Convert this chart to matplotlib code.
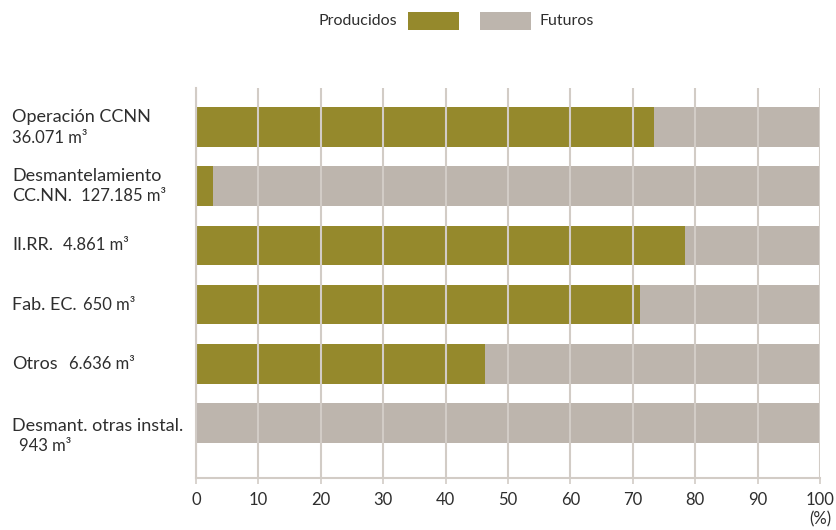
import numpy as np
import matplotlib.pyplot as plt
from matplotlib.patches import Rectangle
from matplotlib.transforms import blended_transform_factory

plt.rcParams["font.family"] = ["Lato", "DejaVu Sans"]

# data
main_labels = ["Operación CCNN", "Desmantelamiento", "II.RR.", "Fab. EC.", "Otros",
               "Desmant. otras instal."]
second_main = ["", "CC.NN.", "", "", "", ""]
volumes = ["36.071 m³", "127.185 m³", "4.861 m³", "650 m³", "6.636 m³", "943 m³"]
producidos = [73.4, 2.7, 78.4, 71.2, 46.3, 0.0]
futuros = [100 - p for p in producidos]
ticks = list(range(0, 101, 10))

OLIVE = "#95892c"
GREY = "#bdb5ad"
GRID = "#d2ccc6"
TXT = "#2e2e2e"

fig = plt.figure(figsize=(8.37, 5.30), dpi=100)
ax = fig.add_axes([196 / 837, 1 - 478 / 530, 624 / 837, 390 / 530])

y = np.arange(len(main_labels))
ax.barh(y, producidos, height=0.67, color=OLIVE, zorder=1)
ax.barh(y, futuros, left=producidos, height=0.67, color=GREY, zorder=1)

ax.set_xlim(0, 100)
ax.set_ylim(5.93, -0.66)
ax.set_xticks(ticks)
ax.set_xticklabels([str(t) for t in ticks], fontsize=12, color=TXT)
ax.set_yticks([])
for t in ticks:
    ax.axvline(t, color=GRID, lw=1.5, zorder=3)
ax.tick_params(axis="x", length=4, width=1.2, color=GRID, pad=6)
for s in ["top", "right"]:
    ax.spines[s].set_visible(False)
for s in ["left", "bottom"]:
    ax.spines[s].set_color(GRID)
    ax.spines[s].set_linewidth(1.5)

ax.text(1.0, -0.085, "(%)", transform=ax.transAxes, ha="center", va="top",
        fontsize=12, color=TXT)

# category labels at the left
tr = blended_transform_factory(fig.transFigure, ax.transData)
x0 = 12 / 837
big = 13
small = 12


def label_pair(yv, head, vol, gap):
    t = ax.text(x0, yv, head, transform=tr, fontsize=big, color=TXT, va="center")
    ax.annotate(vol, xy=(1, 0), xycoords=t, xytext=(gap, 0), textcoords="offset pixels",
                fontsize=small, color=TXT, va="bottom", ha="left")


# Operación CCNN
ax.text(x0, 0 - 0.17, main_labels[0], transform=tr, fontsize=big, color=TXT, va="center")
ax.text(x0, 0 + 0.19, volumes[0], transform=tr, fontsize=small, color=TXT, va="center")
# Desmantelamiento CC.NN.
ax.text(x0, 1 - 0.17, main_labels[1], transform=tr, fontsize=big, color=TXT, va="center")
label_pair(1 + 0.17, second_main[1], volumes[1], 9)
# single-line rows
for i, gap in [(2, 10), (3, 6), (4, 11)]:
    label_pair(i, main_labels[i], volumes[i], gap)
# Desmant. otras instal.
ax.text(x0, 5 + 0.05, main_labels[5], transform=tr, fontsize=big, color=TXT, va="center")
ax.text(19 / 837, 5 + 0.39, volumes[5], transform=tr, fontsize=small, color=TXT, va="center")

# legend on top
fig.text(397 / 837, 1 - 21 / 530, "Producidos", ha="right", va="center", fontsize=11.5, color=TXT)
fig.patches.append(Rectangle((408 / 837, 1 - 30 / 530), 51 / 837, 18 / 530,
                             transform=fig.transFigure, facecolor=OLIVE, edgecolor="none"))
fig.patches.append(Rectangle((480 / 837, 1 - 30 / 530), 51 / 837, 18 / 530,
                             transform=fig.transFigure, facecolor=GREY, edgecolor="none"))
fig.text(540 / 837, 1 - 21 / 530, "Futuros", ha="left", va="center", fontsize=11.5, color=TXT)

fig.savefig("out.png", dpi=100)
